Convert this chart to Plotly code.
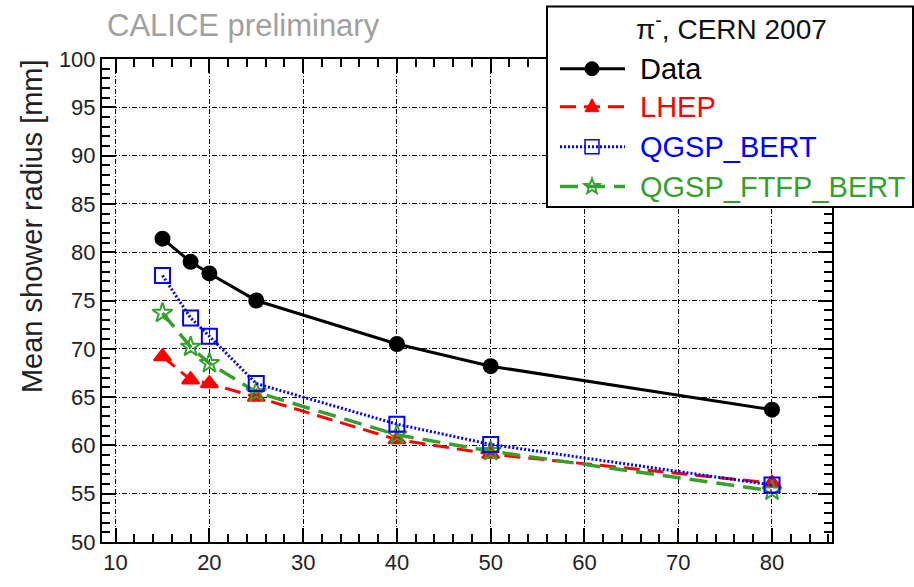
import math
import plotly.graph_objects as go

# Beam energy [GeV] and mean shower radius [mm]
energy = [15, 18, 20, 25, 40, 50, 80]
radius_data = [81.4, 79.0, 77.8, 75.0, 70.5, 68.2, 63.7]
radius_lhep = [69.2, 66.8, 66.4, 65.0, 60.6, 59.1, 56.1]
radius_qgsp_bert = [77.6, 73.2, 71.3, 66.4, 62.2, 60.1, 55.9]
radius_qgsp_ftfp_bert = [73.7, 70.2, 68.5, 65.5, 61.1, 59.4, 55.3]

series_names = ["Data", "LHEP", "QGSP_BERT", "QGSP_FTFP_BERT"]
x_ticks = [10, 20, 30, 40, 50, 60, 70, 80]
y_ticks = [50, 55, 60, 65, 70, 75, 80, 85, 90, 95, 100]

GREEN = "#35a02e"
styles = {
    "Data": dict(color="black", dash="solid", symbol="circle", msize=14, width=3),
    "LHEP": dict(color="red", dash="16px,8px", symbol="triangle-up", msize=15, width=3),
    "QGSP_BERT": dict(color="blue", dash="2px,2px", symbol="square-open", msize=15, width=3),
    "QGSP_FTFP_BERT": dict(color=GREEN, dash="18px,9px", symbol="star-open", msize=15, width=3.5),
}
values = {
    "Data": radius_data,
    "LHEP": radius_lhep,
    "QGSP_BERT": radius_qgsp_bert,
    "QGSP_FTFP_BERT": radius_qgsp_ftfp_bert,
}

W, H = 914, 587
L, R, T, B = 102, 82, 59, 32
PW, PH = W - L - R, H - T - B
FONT = "Liberation Sans, Arial"


def fx(px):
    return (px - L) / PW


def fy(py):
    return (H - B - py) / PH


fig = go.Figure()
for name in ["LHEP", "QGSP_FTFP_BERT", "QGSP_BERT", "Data"]:
    st = styles[name]
    fig.add_trace(go.Scatter(
        x=energy, y=values[name], name=name, mode="lines+markers",
        line=dict(color=st["color"], width=st["width"], dash=st["dash"]),
        marker=dict(symbol=st["symbol"], size=st["msize"], color=st["color"],
                    line=dict(color=st["color"], width=2)),
        showlegend=False,
    ))

grid_dash = "5px,2px,1px,2px"
axis_common = dict(
    showline=True, linecolor="black", linewidth=2, mirror="allticks",
    ticks="inside", ticklen=14, tickwidth=1.5, tickcolor="black",
    showgrid=True, gridcolor="black", gridwidth=1, griddash=grid_dash,
    zeroline=False,
    tickfont=dict(family=FONT, size=22, color="#222"),
)
fig.update_xaxes(
    range=[8.55, 86.4], tickvals=x_ticks,
    minor=dict(dtick=2, ticklen=8, tickwidth=1.5, tickcolor="black", ticks="inside", showgrid=False),
    **axis_common,
)
fig.update_yaxes(
    range=[50, 100], tickvals=y_ticks,
    minor=dict(dtick=1, ticklen=8, tickwidth=1.5, tickcolor="black", ticks="inside", showgrid=False),
    **axis_common,
)

shapes = []
annotations = []

# Legend box
shapes.append(dict(type="rect", xref="paper", yref="paper",
                   x0=fx(547), x1=fx(913), y0=fy(211), y1=fy(5),
                   line=dict(color="black", width=2), fillcolor="white", layer="above"))
annotations.append(dict(text="π<sup>-</sup>, CERN 2007", xref="paper", yref="paper",
                        x=fx(731), y=fy(26), xanchor="center", yanchor="middle", showarrow=False,
                        font=dict(family=FONT, size=28, color="#111")))


def star_path(ro, ri):
    pts = []
    for k in range(10):
        r = ro if k % 2 == 0 else ri
        a = math.pi / 2 + k * math.pi / 5
        pts.append((r * math.cos(a), r * math.sin(a)))
    return "M" + " L".join(f"{x:.2f},{y:.2f}" for x, y in pts) + " Z"


legend_rows = [69, 108, 149, 190]
for name, ry in zip(series_names, legend_rows):
    st = styles[name]
    shapes.append(dict(type="line", xref="paper", yref="paper",
                       x0=fx(560), x1=fx(625), y0=fy(ry), y1=fy(ry),
                       line=dict(color=st["color"], width=st["width"], dash=st["dash"]), layer="above"))
    glyph = dict(xref="paper", yref="paper", xsizemode="pixel", ysizemode="pixel",
                 xanchor=fx(592), yanchor=fy(ry), layer="above")
    if st["symbol"] == "circle":
        glyph.update(type="circle", x0=-7, x1=7, y0=-7, y1=7,
                     fillcolor=st["color"], line=dict(color=st["color"], width=1))
    elif st["symbol"] == "triangle-up":
        glyph.update(type="path", path="M-7,-5 L7,-5 L0,8 Z",
                     fillcolor=st["color"], line=dict(color=st["color"], width=1))
    elif st["symbol"] == "square-open":
        glyph.update(type="rect", x0=-7, x1=7, y0=-7, y1=7,
                     fillcolor="rgba(0,0,0,0)", line=dict(color=st["color"], width=1.5))
    else:
        glyph.update(type="path", path=star_path(8, 3.4),
                     fillcolor="rgba(0,0,0,0)", line=dict(color=st["color"], width=2))
    shapes.append(glyph)
    annotations.append(dict(text=name, xref="paper", yref="paper",
                            x=fx(638), y=fy(ry), xanchor="left", yanchor="middle", showarrow=False,
                            font=dict(family=FONT, size=29, color=st["color"])))

# Header and axis title
annotations.append(dict(text="CALICE preliminary", xref="paper", yref="paper",
                        x=fx(243), y=fy(25), xanchor="center", yanchor="middle", showarrow=False,
                        font=dict(family=FONT, size=31, color="#a0a0a0")))
annotations.append(dict(text="Mean shower radius [mm]", xref="paper", yref="paper",
                        x=fx(32), y=fy(57), xanchor="center", yanchor="top", textangle=-90,
                        showarrow=False,
                        font=dict(family=FONT, size=29, color="#222")))

fig.update_layout(
    width=W, height=H,
    margin=dict(l=L, r=R, t=T, b=B),
    paper_bgcolor="white", plot_bgcolor="white",
    shapes=shapes, annotations=annotations,
    showlegend=False,
)

fig.write_html("out.html")
